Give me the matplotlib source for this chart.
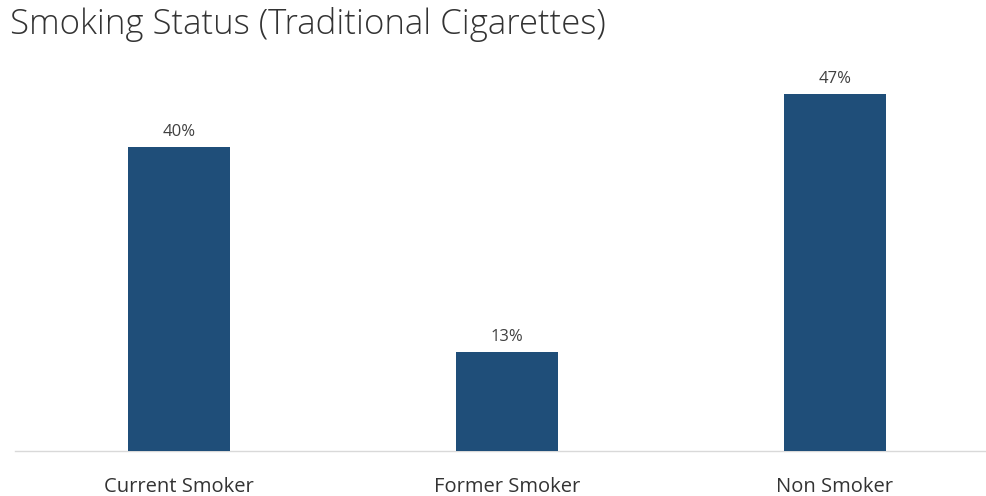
import matplotlib
matplotlib.use('Agg')
import matplotlib.pyplot as plt

categories = ['Current Smoker', 'Former Smoker', 'Non Smoker']
percentages = [40, 13, 47]

bar_color = '#1F4E79'
text_color = '#404040'

plt.rcParams['font.family'] = ['Open Sans', 'DejaVu Sans']

fig = plt.figure(figsize=(9.87, 4.96), dpi=100)
# axes from x=15px to right edge, baseline at y=451px
left = 15 / 987
bottom = (496 - 451) / 496
top = (496 - 60) / 496
ax = fig.add_axes([left, bottom, 1 - left, top - bottom])

positions = range(len(categories))
bars = ax.bar(positions, percentages, width=0.311, color=bar_color, zorder=3)

for b, v in zip(bars, percentages):
    ax.annotate(f'{v}%', (b.get_x() + b.get_width() / 2, v),
                xytext=(0, 5), textcoords='offset points',
                ha='center', va='bottom', fontsize=12, color=text_color)

span = (987 - 15) / 328
ax.set_xlim(-0.5, -0.5 + span)
ax.set_ylim(0, 391 / 7.6)

ax.set_xticks(list(positions))
ax.set_xticklabels(categories, fontsize=14.5, color='#333333')
ax.tick_params(axis='x', length=0, pad=19)
ax.set_yticks([])

for side in ['top', 'left', 'right']:
    ax.spines[side].set_visible(False)
ax.spines['bottom'].set_color('#D9D9D9')
ax.spines['bottom'].set_linewidth(1)

fig.text(10 / 987, 1 - 25 / 496, 'Smoking Status (Traditional Cigarettes)',
         fontsize=25, color='#333333', ha='left', va='center', fontweight='light')

fig.savefig('out.png', dpi=100)
